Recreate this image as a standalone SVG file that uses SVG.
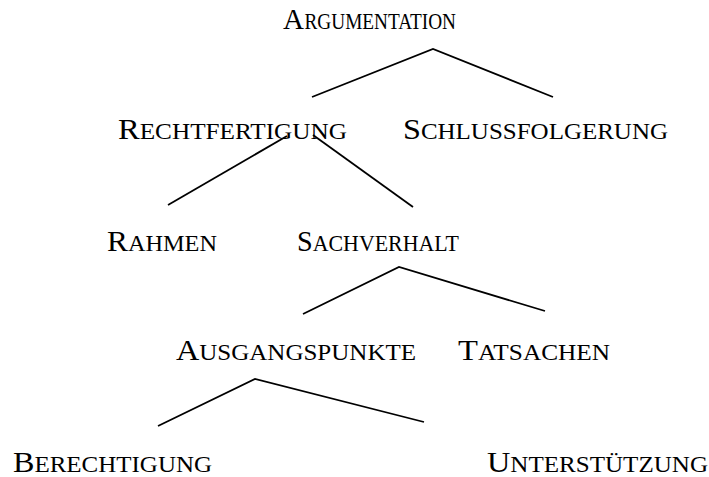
<svg xmlns="http://www.w3.org/2000/svg" width="709" height="477" viewBox="0 0 709 477">
  <style>
    .lbl { font-family: "Liberation Serif", "Times New Roman", serif; font-size: 29px; fill: #000; }
    .sc { font-size: 22.5px; }
    .edge { fill: none; stroke: #000; stroke-width: 1.8; stroke-linejoin: miter; }
  </style>
  <rect width="709" height="477" fill="#fff"/>

  <!-- tree branches -->
  <g id="connectors">
    <polyline class="edge" points="312,97 433,49 553,97"/>
    <line class="edge" x1="287" y1="136" x2="168" y2="205"/>
    <line class="edge" x1="313" y1="135" x2="413" y2="207"/>
    <polyline class="edge" points="303,314 399,267 545,311"/>
    <polyline class="edge" points="158,426 255,379 424,422"/>
  </g>

  <g id="argumentation">
    <text class="lbl" x="283" y="29">A</text>
    <text class="lbl sc" x="304.5" y="29" textLength="151.5" lengthAdjust="spacingAndGlyphs">RGUMENTATION</text>
  </g>
  <g id="rechtfertigung">
    <text class="lbl" x="118" y="139" textLength="229" lengthAdjust="spacingAndGlyphs">R<tspan class="sc">ECHTFERTIGUNG</tspan></text>
  </g>
  <g id="schlussfolgerung">
    <text class="lbl" x="403" y="139" textLength="265" lengthAdjust="spacingAndGlyphs">S<tspan class="sc">CHLUSSFOLGERUNG</tspan></text>
  </g>
  <g id="rahmen">
    <text class="lbl" x="107" y="251" textLength="110" lengthAdjust="spacingAndGlyphs">R<tspan class="sc">AHMEN</tspan></text>
  </g>
  <g id="sachverhalt">
    <text class="lbl" x="297" y="251" textLength="162" lengthAdjust="spacingAndGlyphs">S<tspan class="sc">ACHVERHALT</tspan></text>
  </g>
  <g id="ausgangspunkte">
    <text class="lbl" x="176" y="360" textLength="240" lengthAdjust="spacingAndGlyphs">A<tspan class="sc">USGANGSPUNKTE</tspan></text>
  </g>
  <g id="tatsachen">
    <text class="lbl" x="458" y="360" textLength="152" lengthAdjust="spacingAndGlyphs">T<tspan class="sc">ATSACHEN</tspan></text>
  </g>
  <g id="berechtigung">
    <text class="lbl" x="13" y="472" textLength="199" lengthAdjust="spacingAndGlyphs">B<tspan class="sc">ERECHTIGUNG</tspan></text>
  </g>
  <g id="unterstuetzung">
    <text class="lbl" x="487" y="472" textLength="221" lengthAdjust="spacingAndGlyphs">U<tspan class="sc">NTERSTÜTZUNG</tspan></text>
  </g>
</svg>
